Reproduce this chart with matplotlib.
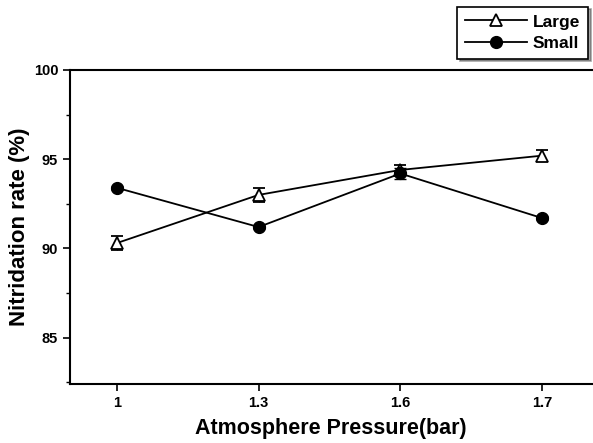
import matplotlib
matplotlib.use("Agg")
import matplotlib.pyplot as plt
from matplotlib.ticker import MultipleLocator
from matplotlib.lines import Line2D

plt.rcParams['font.family'] = ['Liberation Sans', 'DejaVu Sans']
plt.rcParams['font.weight'] = 'bold'

pressure = ['1', '1.3', '1.6', '1.7']
large = [90.3, 93.0, 94.4, 95.2]
large_err = [0.4, 0.4, 0.3, 0.3]
small = [93.4, 91.2, 94.2, 91.7]
small_err = [0.1, 0.1, 0.3, 0.1]

x = list(range(len(pressure)))

fig = plt.figure(figsize=(5.93, 4.43), dpi=100)
ax = fig.add_axes([0.118, 0.133, 0.88, 0.709])

ax.errorbar(x, large, yerr=large_err, color='black', marker='^', markersize=9,
            markerfacecolor='white', markeredgewidth=1.3, linewidth=1.3,
            capsize=4, elinewidth=1)
ax.errorbar(x, small, yerr=small_err, color='black', marker='o', markersize=8.5,
            linewidth=1.3, capsize=4, elinewidth=1)

ax.set_xlim(-0.33, 3.35)
ax.set_ylim(82.4, 100)
ax.set_xticks(x)
ax.set_xticklabels(pressure)
ax.set_yticks([85, 90, 95, 100])
ax.yaxis.set_minor_locator(MultipleLocator(2.5))
ax.tick_params(axis='both', direction='out', labelsize=10.5, width=1.2, length=5)
ax.tick_params(axis='y', which='minor', direction='out', length=3, width=1)
ax.spines['right'].set_visible(False)
for s in ['left', 'top', 'bottom']:
    ax.spines[s].set_linewidth(1.5)

ax.set_xlabel('Atmosphere Pressure(bar)', fontsize=15.5, fontweight='bold', labelpad=6)
ax.set_ylabel('Nitridation rate (%)', fontsize=16, fontweight='bold', labelpad=3)

handles = [
    Line2D([], [], color='black', marker='^', markersize=9, markerfacecolor='white',
           markeredgewidth=1.3, linewidth=1.3),
    Line2D([], [], color='black', marker='o', markersize=8.5, linewidth=1.3),
]
leg = fig.legend(handles, ['Large', 'Small'], loc='upper right',
                 bbox_to_anchor=(0.997, 0.993), fontsize=12.5,
                 frameon=True, shadow=True, fancybox=False, edgecolor='black',
                 handlelength=3.6, borderpad=0.45, labelspacing=0.35,
                 handletextpad=0.3, borderaxespad=0.2)
leg.get_frame().set_linewidth(1.2)

fig.savefig('out.png', dpi=100)
